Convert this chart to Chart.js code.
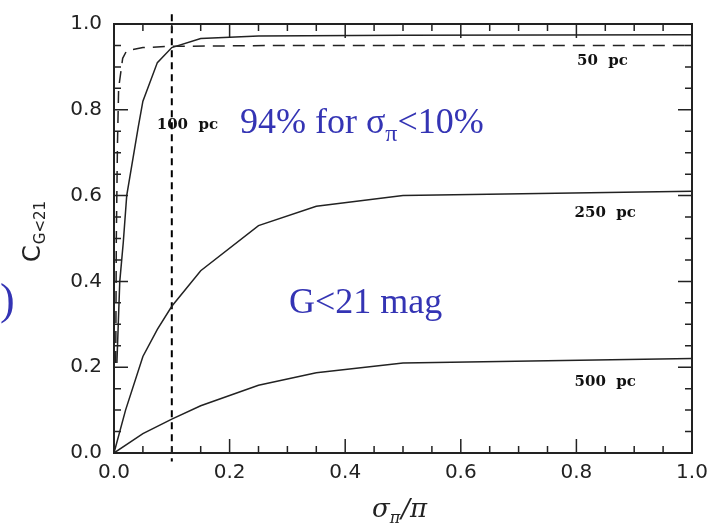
<!DOCTYPE html>
<html>
<head>
<meta charset="utf-8">
<script src="https://cdn.jsdelivr.net/npm/chart.js@4.4.1/dist/chart.umd.min.js"></script>
<style>
  html, body { margin: 0; padding: 0; background: #fff; }
  #wrap { width: 722px; height: 528px; position: relative; }
</style>
</head>
<body>
<div id="wrap"><canvas id="chart" width="722" height="528"></canvas></div>
<script>
// completeness C(G<21) vs relative parallax error, one curve per distance
const x50 = [0.003, 0.004, 0.006, 0.008, 0.015, 0.022, 0.05, 0.1, 0.3, 1.0];
const c50 = [0.21, 0.5, 0.72, 0.85, 0.92, 0.938, 0.945, 0.948, 0.95, 0.95];

const x100 = [0.005, 0.01, 0.016, 0.022, 0.042, 0.05, 0.075, 0.1, 0.15, 0.25, 0.5, 1.0];
const c100 = [0.21, 0.4, 0.49, 0.6, 0.76, 0.82, 0.91, 0.945, 0.966, 0.972, 0.974, 0.975];

const x250 = [0, 0.02, 0.05, 0.075, 0.1, 0.15, 0.25, 0.35, 0.5, 1.0];
const c250 = [0, 0.1, 0.225, 0.288, 0.342, 0.425, 0.53, 0.575, 0.6, 0.61];

const x500 = [0, 0.05, 0.1, 0.15, 0.25, 0.35, 0.5, 1.0];
const c500 = [0, 0.045, 0.079, 0.11, 0.158, 0.187, 0.21, 0.22];

// 10% cut, runs a little past the frame
const cutX = [0.1, 0.1];
const cutY = [1.023, -0.02];

const majorStep = 0.2;
const minorStep = 0.05;

function pts(xs, ys) {
  return xs.map((x, i) => ({ x: x, y: ys[i] }));
}

const ink = "#222";
const blue = "#3434b4";

function line(data, dash, width) {
  return {
    data: data,
    showLine: true,
    pointRadius: 0,
    borderColor: ink,
    borderWidth: width,
    borderDash: dash,
    tension: 0,
    fill: false,
  };
}

// inward ticks on all four sides, frame, and the text labels
const framePlugin = {
  id: "frame",
  afterDatasetsDraw(chart) {
    const ctx = chart.ctx;
    const a = chart.chartArea;
    const xs = chart.scales.x;
    const ys = chart.scales.y;
    ctx.save();
    ctx.strokeStyle = ink;
    ctx.lineWidth = 2;
    ctx.strokeRect(a.left, a.top, a.right - a.left, a.bottom - a.top);
    ctx.lineWidth = 1.5;
    for (let i = 0; i <= 20; i++) {
      const v = i * minorStep;
      const len = i % 4 === 0 ? 14 : 7;
      const px = xs.getPixelForValue(v);
      const py = ys.getPixelForValue(v);
      ctx.beginPath();
      ctx.moveTo(px, a.bottom); ctx.lineTo(px, a.bottom - len);
      ctx.moveTo(px, a.top); ctx.lineTo(px, a.top + len);
      ctx.moveTo(a.left, py); ctx.lineTo(a.left + len, py);
      ctx.moveTo(a.right, py); ctx.lineTo(a.right - len, py);
      ctx.stroke();
    }

    // distance labels
    ctx.fillStyle = "#111";
    ctx.font = "bold 15px 'DejaVu Serif'";
    ctx.textAlign = "center";
    ctx.textBaseline = "middle";
    ctx.fillText("50  pc", xs.getPixelForValue(0.845), ys.getPixelForValue(0.913));
    ctx.fillText("100  pc", xs.getPixelForValue(0.127), ys.getPixelForValue(0.765));
    ctx.fillText("250  pc", xs.getPixelForValue(0.85), ys.getPixelForValue(0.56));
    ctx.fillText("500  pc", xs.getPixelForValue(0.85), ys.getPixelForValue(0.165));

    // blue notes
    ctx.fillStyle = blue;
    ctx.textAlign = "left";
    ctx.textBaseline = "alphabetic";
    ctx.font = "36px 'Liberation Serif'";
    let tx = 240, ty = 133;
    const p1 = "94% for σ";
    ctx.fillText(p1, tx, ty);
    tx += ctx.measureText(p1).width;
    ctx.font = "24px 'Liberation Serif'";
    ctx.fillText("π", tx, ty + 8);
    tx += ctx.measureText("π").width;
    ctx.font = "36px 'Liberation Serif'";
    ctx.fillText("<10%", tx, ty);
    ctx.fillText("G<21 mag", 289, 313);
    ctx.font = "44px 'Liberation Serif'";
    ctx.fillText(")", 0, 314);

    // axis titles
    ctx.fillStyle = ink;
    ctx.save();
    ctx.translate(40, 262);
    ctx.rotate(-Math.PI / 2);
    ctx.font = "24px 'DejaVu Sans'";
    ctx.fillText("C", 0, 0);
    const cw = ctx.measureText("C").width;
    ctx.font = "15px 'DejaVu Sans'";
    ctx.fillText("G<21", cw + 1, 5);
    ctx.restore();

    ctx.font = "italic 26px 'DejaVu Serif'";
    let bx = 372, by = 517;
    ctx.fillText("σ", bx, by);
    bx += ctx.measureText("σ").width;
    ctx.font = "italic 16px 'DejaVu Serif'";
    ctx.fillText("π", bx, by + 6);
    bx += ctx.measureText("π").width + 1;
    ctx.font = "italic 26px 'DejaVu Serif'";
    ctx.fillText("/π", bx, by);
    ctx.restore();
  },
};

const tickFont = { family: "DejaVu Sans", size: 20 };

new Chart(document.getElementById("chart"), {
  type: "scatter",
  data: {
    datasets: [
      line(pts(x50, c50), [12, 8], 1.5),
      line(pts(x100, c100), [], 1.5),
      line(pts(x250, c250), [], 1.5),
      line(pts(x500, c500), [], 1.5),
      Object.assign(line(pts(cutX, cutY), [7, 5], 2), { clip: false, borderColor: "#000" }),
    ],
  },
  options: {
    responsive: false,
    animation: false,
    layout: { padding: { left: 0, right: 30, top: 15, bottom: 0 } },
    plugins: { legend: { display: false }, tooltip: { enabled: false } },
    scales: {
      x: {
        type: "linear",
        min: 0,
        max: 1,
        grid: { display: false, drawTicks: false },
        border: { display: false },
        ticks: {
          stepSize: majorStep,
          padding: 8,
          color: ink,
          font: tickFont,
          maxRotation: 0,
          callback: (v) => v.toFixed(1),
        },
        afterFit(scale) { scale.height = 75; },
      },
      y: {
        type: "linear",
        min: 0,
        max: 1,
        grid: { display: false, drawTicks: false },
        border: { display: false },
        ticks: {
          stepSize: majorStep,
          padding: 12,
          color: ink,
          font: tickFont,
          callback: (v) => v.toFixed(1),
        },
        afterFit(scale) { scale.width = 114; },
      },
    },
  },
  plugins: [framePlugin],
});
</script>
</body>
</html>
